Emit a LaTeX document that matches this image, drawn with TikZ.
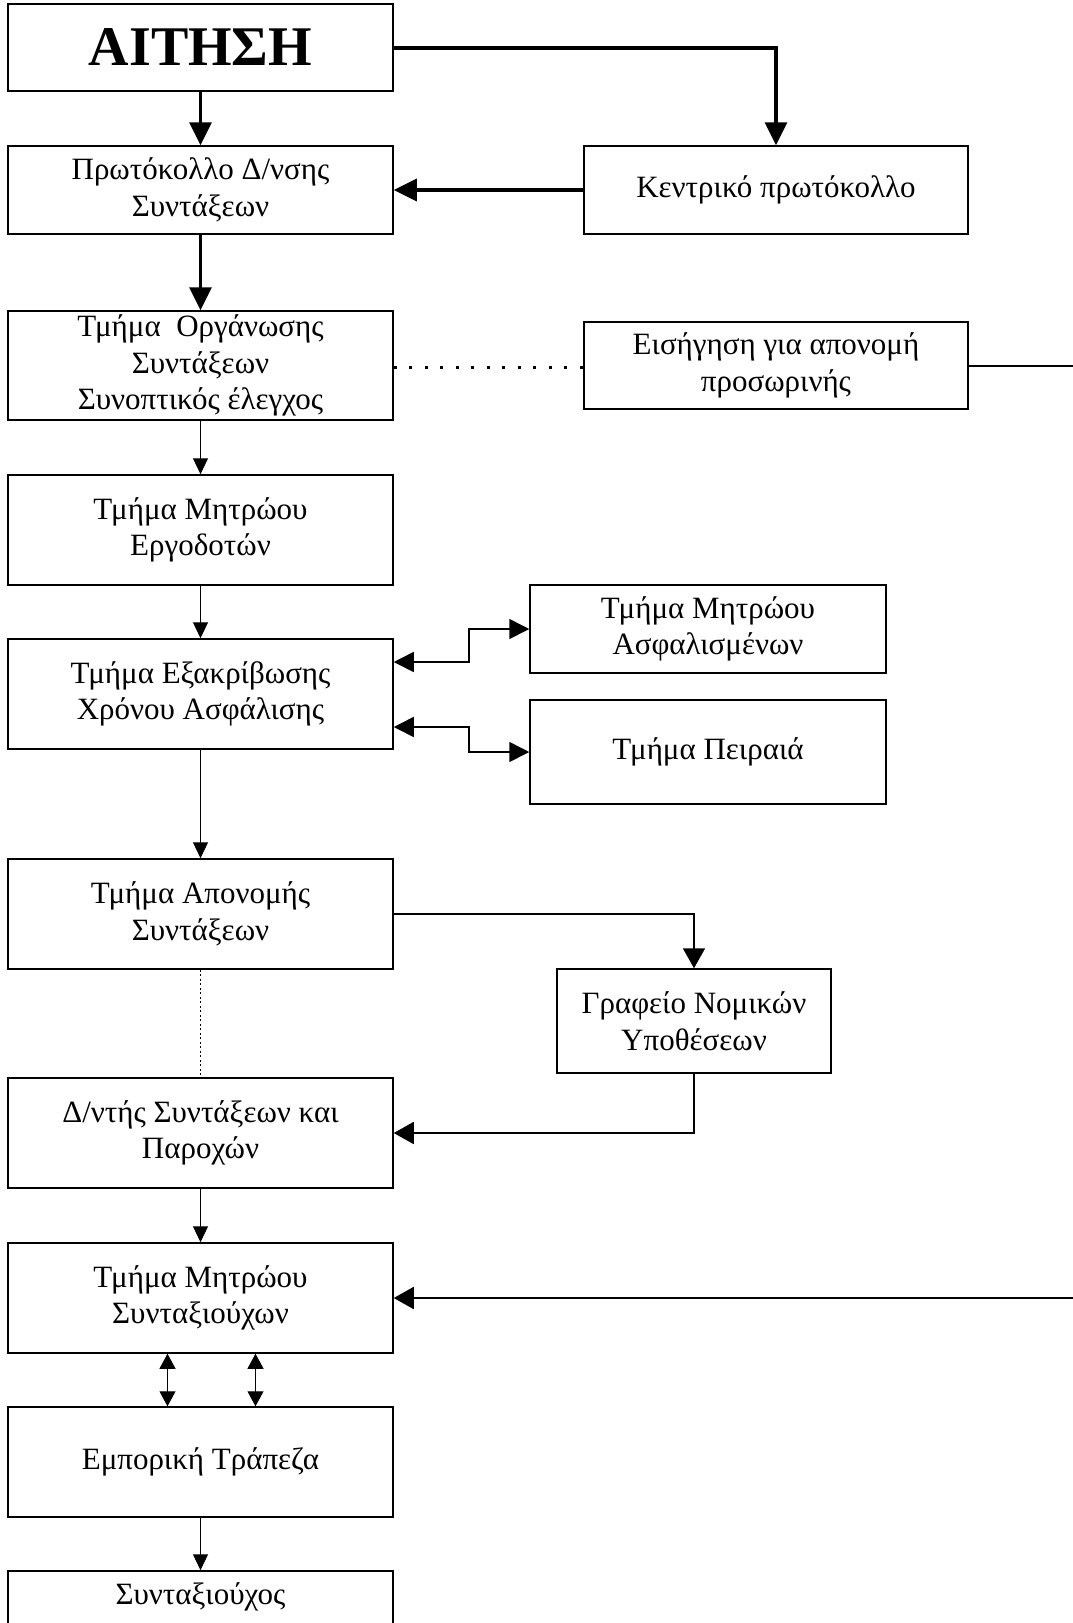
\documentclass[tikz,border=0pt]{standalone}
\usepackage{fontspec}
\setmainfont{Liberation Serif}
\usetikzlibrary{arrows.meta,calc}
\begin{document}
\begin{tikzpicture}[x=1pt,y=-1pt,
  box/.style={draw, line width=1.5pt, rectangle, minimum width=385pt, align=center,
    inner sep=0pt, font=\fontsize{31}{36.5}\selectfont},
  thickarr/.style={line width=3.2pt, -{Triangle[length=23pt,width=22pt]}},
  medarr/.style={line width=1.8pt, -{Triangle[length=20pt,width=22pt]}},
  thinarr/.style={line width=1pt, -{Triangle[length=16pt,width=15pt]}},
  dblarr/.style={line width=1.6pt, {Triangle[length=20pt,width=20pt]}-{Triangle[length=20pt,width=20pt]}},
  smalldbl/.style={line width=1pt, {Triangle[length=15pt,width=16pt]}-{Triangle[length=15pt,width=16pt]}},
]
\useasboundingbox (0,0) rectangle (1072,1623);
% boxes
\node (aitisi) [box, minimum height=87pt, font=\fontsize{56}{60}\selectfont\bfseries] at (200.5,47.5) {ΑΙΤΗΣΗ};
\node (proto) [box, minimum height=88pt] at (200.5,190) {Πρωτόκολλο Δ/νσης\\Συντάξεων};
\node (kentr) [box, minimum width=384pt, minimum height=88pt] at (776,190) {Κεντρικό πρωτόκολλο};
\node (org) [box, minimum height=109pt] at (200.5,365.5) {Τμήμα\ \ Οργάνωσης\\Συντάξεων\\Συνοπτικός έλεγχος};
\node (eisig) [box, minimum width=384pt, minimum height=87pt] at (776,365.5) {Εισήγηση για απονομή\\προσωρινής};
\node (ergod) [box, minimum height=110pt] at (200.5,530) {Τμήμα Μητρώου\\Εργοδοτών};
\node (exakr) [box, minimum height=110pt] at (200.5,694) {Τμήμα Εξακρίβωσης\\Χρόνου Ασφάλισης};
\node (asfal) [box, minimum width=356pt, minimum height=88pt] at (708,629) {Τμήμα Μητρώου\\Ασφαλισμένων};
\node (peir) [box, minimum width=356pt, minimum height=104pt] at (708,752) {Τμήμα Πειραιά};
\node (apon) [box, minimum height=110pt] at (200.5,914) {Τμήμα Απονομής\\Συντάξεων};
\node (nomik) [box, minimum width=274pt, minimum height=104pt] at (694,1021) {Γραφείο Νομικών\\Υποθέσεων};
\node (dntis) [box, minimum height=110pt] at (200.5,1133) {Δ/ντής Συντάξεων και\\Παροχών};
\node (syntax) [box, minimum height=110pt] at (200.5,1298) {Τμήμα Μητρώου\\Συνταξιούχων};
\node (empor) [box, minimum height=110pt] at (200.5,1462) {Εμπορική Τράπεζα};
\node (synx) [box, minimum height=92pt] at (200.5,1617) {Συνταξιούχος\\\strut};
% free ends at the right page edge
\coordinate (rA) at (1080,366);
\coordinate (rB) at (1080,1298);
% connectors
\draw[thickarr] (aitisi.south) -- (proto.north);
\draw[thickarr] (aitisi.east |- 0,48) -| (kentr.north);
\draw[thickarr] (kentr.west) -- (proto.east);
\draw[thickarr] (proto.south) -- (org.north);
\draw[line width=3pt, dash pattern=on 3pt off 12.5pt] (org.east |- 0,367) -- (eisig.west |- 0,367);
\draw[line width=1.8pt] (eisig.east |- 0,366) -- (rA);
\draw[thinarr] (org.south) -- (ergod.north);
\draw[thinarr] (ergod.south) -- (exakr.north);
\draw[dblarr] ($(exakr.east)+(0,-32)$) -- (469,662) |- (asfal.west);
\draw[dblarr] ($(exakr.east)+(0,33)$) -- (469,727) |- (peir.west);
\draw[thinarr] (exakr.south) -- (apon.north);
\draw[medarr] (apon.east) -| (nomik.north);
\draw[line width=0.8pt, dash pattern=on 2pt off 2.5pt] (apon.south) -- (dntis.north);
\draw[medarr] (nomik.south) |- (dntis.east);
\draw[thinarr] (dntis.south) -- (syntax.north);
\draw[medarr] (rB) -- (syntax.east);
\draw[smalldbl] ($(syntax.south)+(-33,0)$) -- ($(empor.north)+(-33,0)$);
\draw[smalldbl] ($(syntax.south)+(55,0)$) -- ($(empor.north)+(55,0)$);
\draw[thinarr] (empor.south) -- (synx.north);
\end{tikzpicture}
\end{document}
